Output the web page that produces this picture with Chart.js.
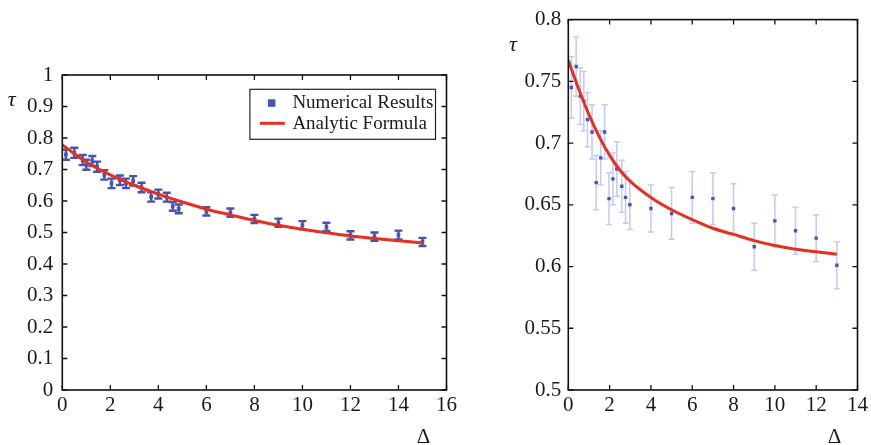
<!DOCTYPE html>
<html>
<head>
<meta charset="utf-8">
<script src="https://cdn.jsdelivr.net/npm/chart.js@4/dist/chart.umd.min.js"></script>
<style>
  html, body { margin: 0; padding: 0; background: #fff; }
  #wrap { position: relative; width: 871px; height: 445px; overflow: hidden; }
  #c1 { position: absolute; left: 0; top: 0; }
  #c2 { position: absolute; left: 460px; top: 0; }
</style>
</head>
<body>
<div id="wrap">
  <canvas id="c1" width="460" height="445"></canvas>
  <canvas id="c2" width="411" height="445"></canvas>
</div>
<script>
// ---- Left panel: numerical results with error bars ----
const leftDelta = [0.15, 0.5, 0.85, 1.0, 1.25, 1.45, 1.75, 2.05, 2.4, 2.65, 2.95, 3.3, 3.7, 4.0, 4.35, 4.6, 4.85,
                   6, 7, 8, 9, 10, 11, 12, 13, 14, 15];
const leftTau   = [0.747, 0.753, 0.730, 0.715, 0.727, 0.709, 0.683, 0.656, 0.666, 0.656, 0.664, 0.643, 0.613, 0.622, 0.612, 0.583, 0.575,
                   0.567, 0.563, 0.543, 0.531, 0.523, 0.518, 0.491, 0.487, 0.492, 0.470];
const leftErr   = [0.016, 0.016, 0.016, 0.016, 0.016, 0.016, 0.015, 0.015, 0.015, 0.015, 0.015, 0.015, 0.015, 0.014, 0.014, 0.014, 0.014,
                   0.013, 0.013, 0.013, 0.013, 0.013, 0.013, 0.013, 0.013, 0.014, 0.013];
// analytic formula curve, left panel
const leftFitDelta = [0, 1, 2, 3, 4, 5, 6, 7, 8, 9, 10, 11, 12, 13, 14, 15];
const leftFitTau   = [0.778, 0.724, 0.683, 0.650, 0.622, 0.597, 0.574, 0.556, 0.538, 0.523, 0.510, 0.499, 0.489, 0.481, 0.474, 0.467];
const leftXTicks = [0, 2, 4, 6, 8, 10, 12, 14, 16];
const leftYTicks = [0, 0.1, 0.2, 0.3, 0.4, 0.5, 0.6, 0.7, 0.8, 0.9, 1];
const leftYLabels = ['0', '0.1', '0.2', '0.3', '0.4', '0.5', '0.6', '0.7', '0.8', '0.9', '1'];

// ---- Right panel ----
const rightDelta = [0.15, 0.38, 0.58, 0.75, 0.93, 1.15, 1.35, 1.57, 1.76, 1.97, 2.16, 2.35, 2.59, 2.77, 2.98,
                    4, 5, 6, 7, 8, 9, 10, 11, 12, 13];
const rightTau   = [0.745, 0.762, 0.738, 0.734, 0.719, 0.709, 0.668, 0.688, 0.709, 0.655, 0.671, 0.679, 0.665, 0.656, 0.650,
                    0.647, 0.643, 0.656, 0.655, 0.647, 0.616, 0.637, 0.629, 0.623, 0.601];
const rightErr   = [0.025, 0.024, 0.023, 0.024, 0.022, 0.022, 0.022, 0.022, 0.022, 0.021, 0.021, 0.022, 0.021, 0.021, 0.020,
                    0.019, 0.021, 0.021, 0.021, 0.020, 0.019, 0.021, 0.019, 0.019, 0.019];
const rightFitDelta = [0, 0.5, 1, 1.5, 2, 2.5, 3, 4, 5, 6, 7, 8, 9, 10, 11, 12, 13];
const rightFitTau   = [0.767, 0.744, 0.723, 0.705, 0.690, 0.678, 0.669, 0.656, 0.646, 0.638, 0.631, 0.626, 0.621, 0.617, 0.614, 0.612, 0.610];
const rightXTicks = [0, 2, 4, 6, 8, 10, 12, 14];
const rightYTicks = [0.5, 0.55, 0.6, 0.65, 0.7, 0.75, 0.8];
const rightYLabels = ['0.5', '0.55', '0.6', '0.65', '0.7', '0.75', '0.8'];

const seriesNames = ['Numerical Results', 'Analytic Formula'];

const SERIF = '"Liberation Serif", "Times New Roman", Times, serif';
const RED = '#e5301f';
const BLUE = '#4654b4';

Chart.defaults.font.family = SERIF;
Chart.defaults.font.size = 21;
Chart.defaults.color = '#1a1a1a';

const pts = (xs, ys) => xs.map((x, i) => ({ x: x, y: ys[i] }));

// vertical error bars with caps, drawn under the markers and curve
const errorBars = {
  id: 'errorBars',
  beforeDatasetsDraw(chart, args, opts) {
    const ds = chart.data.datasets[opts.datasetIndex];
    const xs = chart.scales.x, ys = chart.scales.y;
    const ctx = chart.ctx;
    ctx.save();
    ctx.strokeStyle = opts.color;
    ctx.lineWidth = opts.width;
    ds.data.forEach((p, i) => {
      const x = xs.getPixelForValue(p.x);
      const lo = ys.getPixelForValue(p.y - opts.errors[i]);
      const hi = ys.getPixelForValue(p.y + opts.errors[i]);
      ctx.beginPath();
      ctx.moveTo(x, lo); ctx.lineTo(x, hi);
      ctx.moveTo(x - opts.cap, lo); ctx.lineTo(x + opts.cap, lo);
      ctx.moveTo(x - opts.cap, hi); ctx.lineTo(x + opts.cap, hi);
      ctx.stroke();
    });
    ctx.restore();
  }
};

// boxed frame with inward ticks on all four sides
const frame = {
  id: 'frame',
  afterDatasetsDraw(chart) {
    const { ctx, chartArea: a } = chart;
    const xs = chart.scales.x, ys = chart.scales.y;
    const len = 5;
    ctx.save();
    ctx.strokeStyle = '#111';
    ctx.lineWidth = 1.3;
    ctx.beginPath();
    xs.ticks.forEach(t => {
      const x = xs.getPixelForValue(t.value);
      ctx.moveTo(x, a.bottom); ctx.lineTo(x, a.bottom - len);
      ctx.moveTo(x, a.top); ctx.lineTo(x, a.top + len);
    });
    ys.ticks.forEach(t => {
      const y = ys.getPixelForValue(t.value);
      ctx.moveTo(a.left, y); ctx.lineTo(a.left + len, y);
      ctx.moveTo(a.right, y); ctx.lineTo(a.right - len, y);
    });
    ctx.stroke();
    ctx.lineWidth = 1.6;
    ctx.strokeRect(a.left, a.top, a.right - a.left, a.bottom - a.top);
    ctx.restore();
  }
};

// axis symbols and the boxed legend
const annotations = {
  id: 'annotations',
  afterDraw(chart, args, opts) {
    const { ctx, chartArea: a } = chart;
    ctx.save();
    ctx.fillStyle = '#1a1a1a';
    ctx.textAlign = 'center';
    ctx.textBaseline = 'alphabetic';
    ctx.font = 'italic 22px ' + SERIF;
    ctx.fillText('τ', a.left - opts.tauDx, a.top + opts.tauDy);
    ctx.font = '21px ' + SERIF;
    ctx.fillText('Δ', a.right - 23, a.bottom + 53);

    if (opts.legend) {
      const bx = a.right - 196.6, by = a.top + 14.3, bw = 185.6, bh = 50;
      ctx.strokeStyle = '#222';
      ctx.lineWidth = 1.2;
      ctx.strokeRect(bx, by, bw, bh);
      const scatter = chart.data.datasets[1], line = chart.data.datasets[0];
      ctx.fillStyle = scatter.backgroundColor;
      ctx.fillRect(bx + 18, by + 10, 7.5, 7.5);
      ctx.strokeStyle = line.borderColor;
      ctx.lineWidth = 3;
      ctx.beginPath();
      ctx.moveTo(bx + 10, by + 34); ctx.lineTo(bx + 35, by + 34);
      ctx.stroke();
      ctx.fillStyle = '#1a1a1a';
      ctx.textAlign = 'left';
      ctx.textBaseline = 'middle';
      ctx.font = '19px ' + SERIF;
      ctx.fillText(scatter.label, bx + 42.5, by + 14);
      ctx.fillText(line.label, bx + 42.5, by + 34.5);
    }
    ctx.restore();
  }
};

function makeChart(canvasId, cfg) {
  return new Chart(document.getElementById(canvasId), {
    type: 'scatter',
    data: {
      datasets: [
        {
          label: seriesNames[1],
          data: pts(cfg.fitX, cfg.fitY),
          showLine: true,
          borderColor: RED,
          borderWidth: cfg.fitWidth,
          pointRadius: 0,
          cubicInterpolationMode: 'monotone',
          fill: false
        },
        {
          label: seriesNames[0],
          data: pts(cfg.x, cfg.y),
          showLine: false,
          pointStyle: 'rect',
          pointRadius: cfg.markerRadius,
          pointBorderWidth: 0,
          backgroundColor: BLUE,
          borderColor: BLUE
        }
      ]
    },
    options: {
      responsive: false,
      animation: false,
      events: [],
      layout: { padding: cfg.padding },
      plugins: {
        legend: { display: false },
        tooltip: { enabled: false },
        errorBars: { datasetIndex: 1, errors: cfg.err, color: cfg.barColor, width: cfg.barWidth, cap: cfg.cap },
        annotations: { legend: cfg.legend, tauDx: cfg.tauDx, tauDy: cfg.tauDy }
      },
      scales: {
        x: {
          type: 'linear',
          min: cfg.xTicks[0],
          max: cfg.xTicks[cfg.xTicks.length - 1],
          afterBuildTicks: s => { s.ticks = cfg.xTicks.map(v => ({ value: v })); },
          afterFit: s => { s.height = 55; },
          grid: { display: false, drawTicks: false },
          border: { display: false },
          ticks: { padding: 3, maxRotation: 0, autoSkip: false, callback: v => String(v) }
        },
        y: {
          type: 'linear',
          min: cfg.yTicks[0],
          max: cfg.yTicks[cfg.yTicks.length - 1],
          afterBuildTicks: s => { s.ticks = cfg.yTicks.map(v => ({ value: v })); },
          afterFit: s => { s.width = cfg.yWidth; },
          grid: { display: false, drawTicks: false },
          border: { display: false },
          ticks: { padding: cfg.yPad, autoSkip: false, callback: (v, i) => cfg.yLabels[i] }
        }
      }
    },
    plugins: [errorBars, frame, annotations]
  });
}

makeChart('c1', {
  x: leftDelta, y: leftTau, err: leftErr,
  fitX: leftFitDelta, fitY: leftFitTau, fitWidth: 3,
  xTicks: leftXTicks, yTicks: leftYTicks, yLabels: leftYLabels,
  padding: { left: 0, top: 75, right: 11.7, bottom: 0 },
  yWidth: 62.3, yPad: 9,
  markerRadius: 2.6, barColor: '#4454b6', barWidth: 2.4, cap: 4,
  legend: true, tauDx: 50.6, tauDy: 31
});

makeChart('c2', {
  x: rightDelta, y: rightTau, err: rightErr,
  fitX: rightFitDelta, fitY: rightFitTau, fitWidth: 3,
  xTicks: rightXTicks, yTicks: rightYTicks, yLabels: rightYLabels,
  padding: { left: 0, top: 16, right: 11, bottom: 0 },
  yWidth: 108.3, yPad: 7,
  markerRadius: 2.4, barColor: '#c2caf0', barWidth: 1.5, cap: 3,
  legend: false, tauDx: 55.3, tauDy: 31
});
</script>
</body>
</html>
